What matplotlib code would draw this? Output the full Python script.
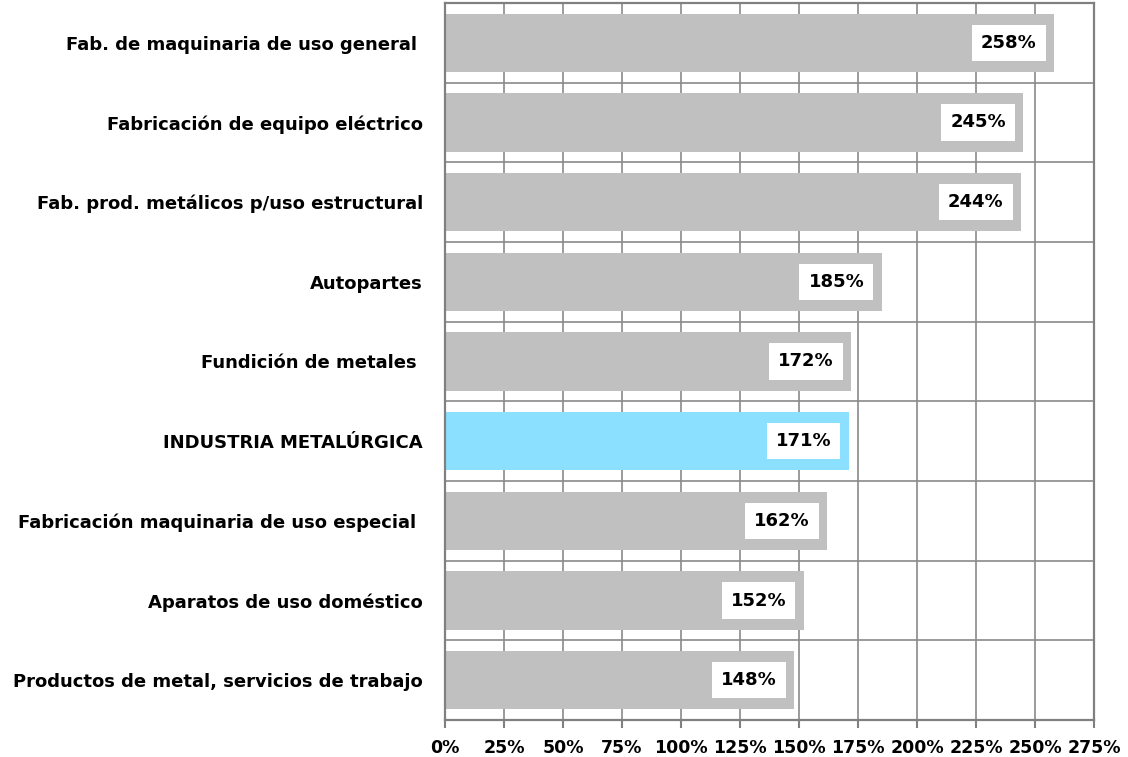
import matplotlib.pyplot as plt
import numpy as np

categories = ["Fab. de maquinaria de uso general ",
              "Fabricación de equipo eléctrico",
              "Fab. prod. metálicos p/uso estructural",
              "Autopartes",
              "Fundición de metales ",
              "INDUSTRIA METALÚRGICA",
              "Fabricación maquinaria de uso especial ",
              "Aparatos de uso doméstico",
              "Productos de metal, servicios de trabajo"]
values = [258, 245, 244, 185, 172, 171, 162, 152, 148]
highlight = "INDUSTRIA METALÚRGICA"
xticks = np.arange(0, 276, 25)

plt.rcParams['font.family'] = ['DejaVu Sans']

fig = plt.figure(figsize=(11.28, 7.57), dpi=100)
ax = fig.add_axes([445/1128, 37/757, 649/1128, 717/757])

y = np.arange(len(categories))
colors = ["#8BE0FF" if c == highlight else "#C0C0C0" for c in categories]
ax.barh(y, values, height=0.73, color=colors, zorder=2)

for yi, v in zip(y, values):
    ax.annotate(f"{v}%", xy=(v, yi), xytext=(-12.5, 0), textcoords="offset points",
                ha="right", va="center", fontsize=13, fontweight="bold", zorder=3,
                bbox=dict(boxstyle="square,pad=0.5", fc="white", ec="none"))

ax.set_xlim(0, 275)
ax.set_ylim(len(categories) - 0.5, -0.5)
ax.set_xticks(xticks)
ax.set_xticklabels([f"{t}%" for t in xticks], fontsize=12.5, fontweight="bold")
ax.set_yticks(y)
ax.set_yticklabels(categories, fontsize=13, fontweight="bold")
ax.set_yticks(np.arange(-0.5, len(categories), 1), minor=True)
ax.tick_params(axis="y", which="both", length=0, pad=16)
ax.tick_params(axis="x", length=6, color="#808080", width=1.5, pad=7.5)

ax.grid(True, axis="x", color="#8a8a8a", linewidth=1.2, zorder=0)
ax.grid(True, axis="y", which="minor", color="#8a8a8a", linewidth=1.2, zorder=0)
ax.set_axisbelow(True)
for s in ax.spines.values():
    s.set_color("#808080")
    s.set_linewidth(1.6)

fig.savefig("out.png", dpi=100)
